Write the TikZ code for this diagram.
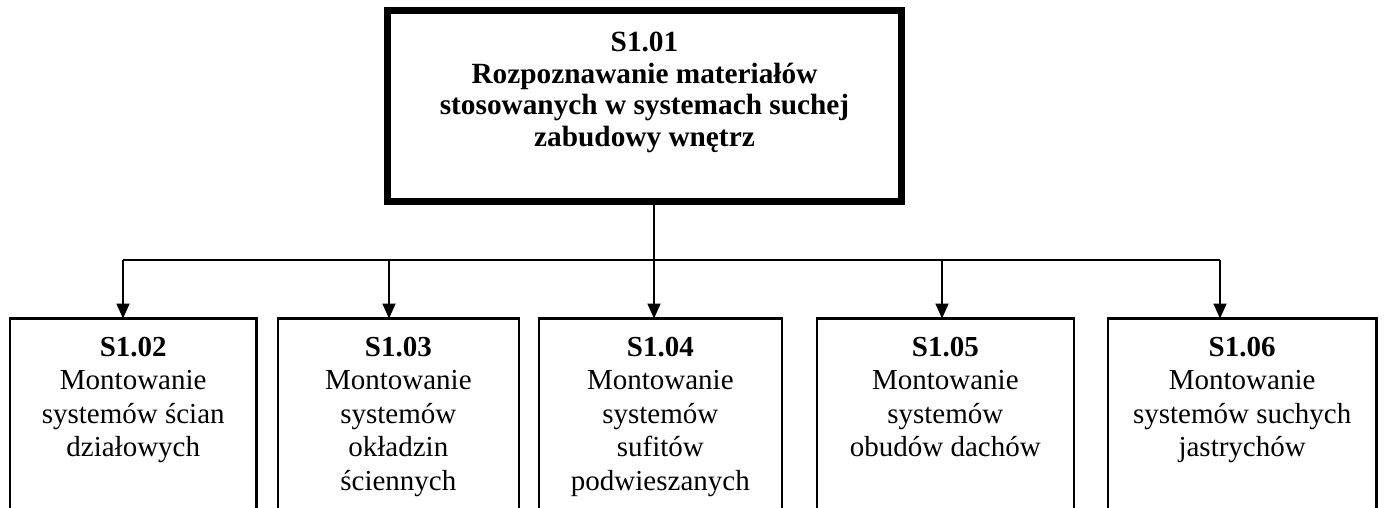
\documentclass[tikz,border=0pt]{standalone}
\usepackage{fontspec}
\setmainfont{Liberation Serif}
\usetikzlibrary{arrows.meta,calc}
\tikzset{
  topbox/.style={draw, rectangle, line width=7pt, inner sep=0pt, outer sep=0pt, anchor=north west},
  subbox/.style={draw, rectangle, line width=2.4pt, inner sep=0pt, outer sep=0pt, anchor=north west},
  toptext/.style={font=\fontsize{29.3}{31.7}\selectfont\bfseries, align=center, inner sep=0pt, anchor=north},
  subtext/.style={font=\fontsize{29}{33.5}\selectfont, align=center, inner sep=0pt, anchor=north},
  conn/.style={line width=1.8pt},
  arr/.style={conn, -{Triangle[width=13pt,length=15pt]}}
}
\begin{document}
\begin{tikzpicture}[x=1pt,y=-1pt]
\useasboundingbox (0,0) rectangle (1384,507);
\clip (0,0) rectangle (1384,507);
% top box
\node[topbox, minimum width=514pt, minimum height=191pt] (top) at (387.5,10.5) {};
\node[toptext] (toptxt) at ($(top.north)+(0,21.2)$) {S1.01\\Rozpoznawanie materiałów\\stosowanych w systemach suchej\\zabudowy wnętrz};
% sub boxes
\node[subbox, minimum width=246.5pt, minimum height=220pt] (b1) at (10,318.5) {};
\node[subbox, minimum width=240.7pt, minimum height=220pt] (b2) at (278,318.5) {};
\node[subbox, minimum width=243.3pt, minimum height=220pt] (b3) at (538.7,318.5) {};
\node[subbox, minimum width=256.7pt, minimum height=220pt] (b4) at (817,318.5) {};
\node[subbox, minimum width=268.3pt, minimum height=220pt] (b5) at (1108,318.5) {};
\node[subtext] (t1) at ($(b1.north)+(0,18.3)$) {\textbf{S1.02}\\Montowanie\\systemów ścian\\działowych};
\node[subtext] (t2) at ($(b2.north)+(0,18.3)$) {\textbf{S1.03}\\Montowanie\\systemów\\okładzin\\ściennych};
\node[subtext] (t3) at ($(b3.north)+(0,18.3)$) {\textbf{S1.04}\\Montowanie\\systemów\\sufitów\\podwieszanych};
\node[subtext] (t4) at ($(b4.north)+(0,18.3)$) {\textbf{S1.05}\\Montowanie\\systemów\\obudów dachów};
\node[subtext] (t5) at ($(b5.north)+(0,18.3)$) {\textbf{S1.06}\\Montowanie\\systemów suchych\\jastrychów};
% connector ends
\coordinate (e1) at (123,318.5);
\coordinate (e2) at (389,318.5);
\coordinate (e3) at (654,318.5);
\coordinate (e4) at (942,318.5);
\coordinate (e5) at (1220,318.5);
\coordinate (bus) at (0,260);
\draw[conn] (top.south -| e3) -- (bus -| e3);
\draw[conn] (bus -| e1) -- (bus -| e5);
\draw[arr] (bus -| e1) -- (e1);
\draw[arr] (bus -| e2) -- (e2);
\draw[arr] (bus -| e3) -- (e3);
\draw[arr] (bus -| e4) -- (e4);
\draw[arr] (bus -| e5) -- (e5);
\end{tikzpicture}
\end{document}
